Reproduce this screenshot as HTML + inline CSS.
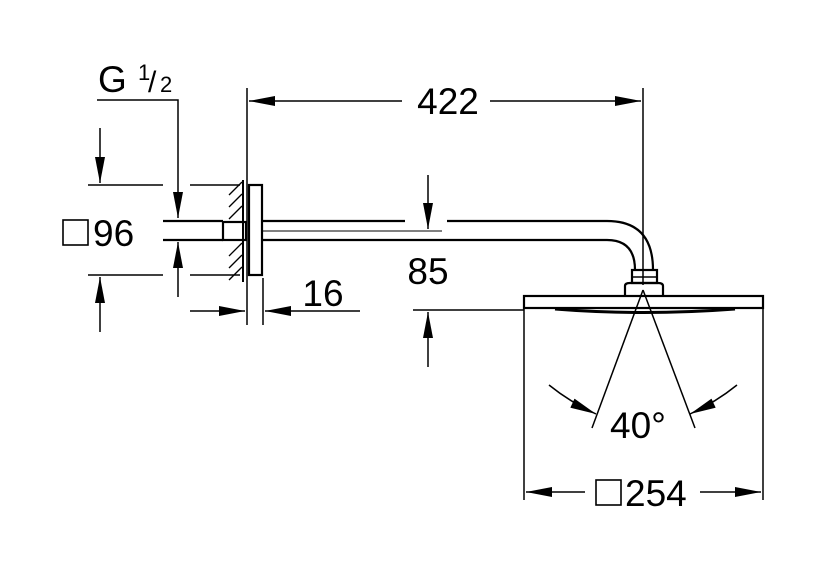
<!DOCTYPE html>
<html><head><style>html,body{margin:0;padding:0;background:#fff}svg{display:block}</style></head><body>
<svg width="834" height="567" viewBox="0 0 834 567" xmlns="http://www.w3.org/2000/svg" font-family="Liberation Sans, sans-serif">
<defs>
<marker id="a" viewBox="0 0 26 10" refX="26" refY="5" markerWidth="26" markerHeight="10" markerUnits="userSpaceOnUse" orient="auto"><path d="M0,0L26,5L0,10z" fill="#000"/></marker>
</defs>
<g stroke="#000" fill="none" stroke-width="1.5">
<line x1="247" y1="88" x2="247" y2="325"/>
<line x1="643" y1="88" x2="643" y2="285"/>
<line x1="402" y1="101" x2="249" y2="101" marker-end="url(#a)"/>
<line x1="490" y1="101" x2="641" y2="101" marker-end="url(#a)"/>
<polyline points="97,100 178,100 178,218" marker-end="url(#a)"/>
<line x1="178" y1="297" x2="178" y2="242" marker-end="url(#a)"/>
<line x1="163" y1="221" x2="223" y2="221" stroke-width="2.2"/>
<line x1="163" y1="240" x2="223" y2="240" stroke-width="2.2"/>
<rect x="223" y="222" width="23" height="18" stroke-width="2.2"/>
<line x1="243" y1="180" x2="243" y2="282" stroke-width="2"/>
<g stroke-width="1.3">
<line x1="229" y1="195" x2="242" y2="182"/>
<line x1="229" y1="207" x2="242" y2="194"/>
<line x1="229" y1="219" x2="242" y2="206"/>
<line x1="229" y1="256" x2="242" y2="243"/>
<line x1="229" y1="268" x2="242" y2="255"/>
<line x1="229" y1="280" x2="242" y2="267"/>
</g>
<rect x="249" y="185" width="13" height="90" stroke-width="2.2"/>
<path d="M263,221 H405 M447,221 H607 Q653,221 653,270" stroke-width="2.2"/>
<path d="M263,240 H607 Q635,240 635,270" stroke-width="2.2"/>
<line x1="263" y1="231" x2="442" y2="231" stroke-width="1"/>
<rect x="632" y="270" width="25" height="13" stroke-width="2.2"/>
<line x1="632" y1="277" x2="657" y2="277"/>
<path d="M625,296 V286 Q625,283 630,283 H658 Q663,283 663,286 V296" stroke-width="2.2"/>
<rect x="524" y="296" width="239" height="12" stroke-width="2.2"/>
<line x1="524" y1="308" x2="524" y2="500"/>
<line x1="763" y1="308" x2="763" y2="500"/>
<path d="M555,309 Q643,316 735,309" stroke-width="3"/>
<line x1="428" y1="175" x2="428" y2="229" marker-end="url(#a)"/>
<line x1="413" y1="310" x2="524" y2="310"/>
<line x1="428" y1="367" x2="428" y2="312" marker-end="url(#a)"/>
<line x1="100" y1="128" x2="100" y2="183" marker-end="url(#a)"/>
<line x1="88" y1="185" x2="163" y2="185"/>
<line x1="190" y1="185" x2="240" y2="185"/>
<line x1="88" y1="275" x2="163" y2="275"/>
<line x1="190" y1="275" x2="240" y2="275"/>
<line x1="100" y1="332" x2="100" y2="277" marker-end="url(#a)"/>
<rect x="63" y="220" width="25" height="25" stroke-width="1.6"/>
<line x1="263" y1="278" x2="263" y2="325"/>
<line x1="190" y1="311" x2="245" y2="311" marker-end="url(#a)"/>
<line x1="360" y1="311" x2="265" y2="311" marker-end="url(#a)"/>
<line x1="643" y1="290" x2="592" y2="428"/>
<line x1="643" y1="290" x2="695" y2="428"/>
<path d="M549,385 Q570,402 596,414" marker-end="url(#a)"/>
<path d="M737,385 Q716,402 690,414" marker-end="url(#a)"/>
<line x1="585" y1="492" x2="526" y2="492" marker-end="url(#a)"/>
<line x1="700" y1="492" x2="761" y2="492" marker-end="url(#a)"/>
<rect x="596" y="480" width="25" height="25" stroke-width="1.6"/>
</g>
<g font-size="37" fill="#000">
<text x="98" y="92">G</text>
<text x="138" y="80" font-size="22">1</text>
<text x="148" y="92" font-size="30">/</text>
<text x="160" y="92" font-size="22">2</text>
<text x="448" y="114" text-anchor="middle">422</text>
<text x="93" y="246">96</text>
<text x="428" y="284" text-anchor="middle">85</text>
<text x="323" y="306" text-anchor="middle">16</text>
<text x="610" y="438">40°</text>
<text x="625" y="506">254</text>
</g>
</svg>
</body></html>
